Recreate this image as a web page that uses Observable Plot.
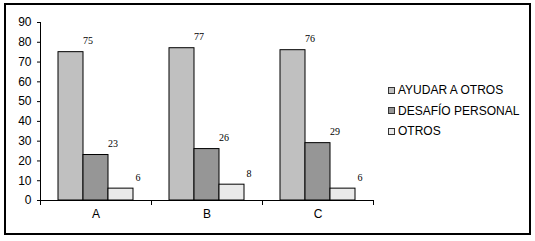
<!DOCTYPE html>
<html>
<head>
<meta charset="utf-8">
<script src="https://cdn.jsdelivr.net/npm/d3@7"></script>
<script src="https://cdn.jsdelivr.net/npm/@observablehq/plot@0.6"></script>
<style>
  html, body { margin: 0; padding: 0; background: #fff; }
  #wrap { position: relative; width: 535px; height: 241px; overflow: hidden; font-family: "Liberation Sans", Arial, sans-serif; }
  #border { position: absolute; left: 4px; top: 3px; width: 527px; height: 232px; box-sizing: border-box; border: 2px solid #000; }
  #chart { position: absolute; left: 0; top: 0; }
  #legend { position: absolute; left: 388px; top: 80px; font-size: 12px; color: #000; }
  .row { display: flex; align-items: center; height: 20.5px; white-space: nowrap; }
  .sw { width: 5px; height: 5px; border: 1px solid #333; margin-right: 3px; }
</style>
</head>
<body>
<div id="wrap">
  <div id="border"></div>
  <div id="chart"></div>
  <div id="legend"></div>
</div>
<script>
const categories = ["A", "B", "C"];
const series = ["AYUDAR A OTROS", "DESAFÍO PERSONAL", "OTROS"];
const ayudarAOtros = [75, 77, 76];
const desafioPersonal = [23, 26, 29];
const otros = [6, 8, 6];
const yTicks = [0, 10, 20, 30, 40, 50, 60, 70, 80, 90];
const colors = ["#c0c0c0", "#969696", "#eaeaea"];

const seriesValues = [ayudarAOtros, desafioPersonal, otros];
const data = [];
categories.forEach((c, i) => {
  series.forEach((s, j) => data.push({cat: c, series: s, value: seriesValues[j][i]}));
});

const chart = Plot.plot({
  width: 535,
  height: 241,
  marginLeft: 40,
  marginRight: 162,
  marginTop: 22,
  marginBottom: 41,
  style: {fontFamily: "Liberation Sans, Arial, sans-serif", color: "#000", background: "transparent"},
  fx: {domain: categories, padding: 0},
  x: {domain: series, paddingInner: 0, paddingOuter: 0.72, axis: null},
  y: {domain: [0, 90]},
  color: {domain: series, range: colors},
  marks: [
    Plot.barY(data, {fx: "cat", x: "series", y: "value", fill: "series", stroke: "#000", strokeWidth: 1}),
    Plot.text(data, {fx: "cat", x: "series", y: "value", text: d => String(d.value), dx: 17, dy: -11,
      fontFamily: "Liberation Serif, Times New Roman, serif", fontSize: 10, fill: "#000"}),
    Plot.frame({anchor: "left", facet: "super", stroke: "#000"}),
    Plot.frame({anchor: "bottom", facet: "super", stroke: "#000"}),
    Plot.frame({anchor: "left", insetTop: 178, insetBottom: -4, stroke: "#000"}),
    Plot.frame({anchor: "right", insetTop: 178, insetBottom: -4, stroke: "#000"}),
    Plot.axisY({ticks: yTicks, tickSize: 3, tickPadding: 6, fontSize: 12, label: null}),
    Plot.axisFx({anchor: "bottom", tickSize: 0, tickPadding: 9, fontSize: 12, label: null})
  ]
});
document.getElementById("chart").appendChild(chart);

const legend = document.getElementById("legend");
series.forEach((s, j) => {
  const row = document.createElement("div");
  row.className = "row";
  const sw = document.createElement("span");
  sw.className = "sw";
  sw.style.background = colors[j];
  const t = document.createElement("span");
  t.textContent = s;
  row.appendChild(sw);
  row.appendChild(t);
  legend.appendChild(row);
});
</script>
</body>
</html>
